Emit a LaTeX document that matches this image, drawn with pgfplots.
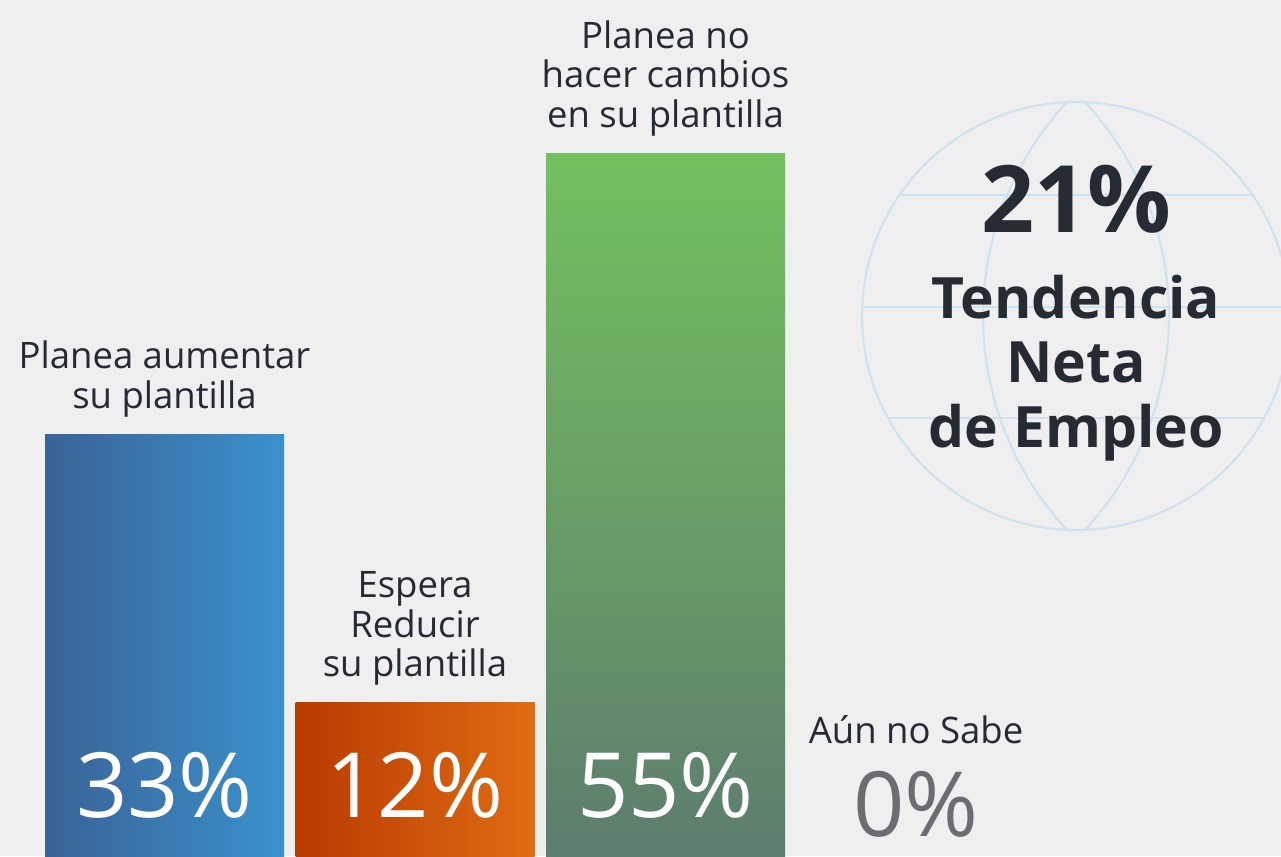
\documentclass[border=0pt]{standalone}
\usepackage{fontspec}
\setmainfont{Open Sans}
\usepackage{pgfplots}
\pgfplotsset{compat=1.18}
\definecolor{bg}{HTML}{EFEFEF}
\definecolor{txt}{HTML}{262A33}
\definecolor{zero}{HTML}{6C6C72}
\definecolor{globe}{HTML}{CDE4F0}
\definecolor{blueL}{HTML}{3A6297}
\definecolor{blueM}{HTML}{4E7CB2}
\definecolor{blueR}{HTML}{3A92CC}
\definecolor{orL}{HTML}{B83A00}
\definecolor{orR}{HTML}{E06C12}
\definecolor{grT}{HTML}{73C05E}
\definecolor{grB}{HTML}{5D7D6E}
\begin{document}
\begin{tikzpicture}
\fill[bg] (0pt,0pt) rectangle (1281pt,856pt);
\begin{scope}[x=1pt,y=1pt]
\clip (0,0) rectangle (1281,856);
\begin{scope}[draw=globe, line width=2pt]
\draw (1076,540) circle[radius=214];
\draw (899.5,661) -- (1252.5,661);
\draw (862.2,549) -- (1289.8,549);
\draw (887.9,438) -- (1264.1,438);
\draw (1067,754) arc[start angle=137.14, end angle=222.86, radius=314.6];
\draw (1084.9,754) arc[start angle=42.86, end angle=-42.86, radius=314.6];
\end{scope}
\end{scope}
\begin{axis}[at={(0pt,0pt)}, anchor=south west, scale only axis,
  width=1281pt, height=856pt,
  xmin=-0.6567, xmax=4.4571, ymin=0, ymax=67,
  axis lines=none, ybar, bar width=239pt, clip=false]
\addplot[ybar, bar shift=0pt, draw=none, left color=blueL, middle color=blueM, right color=blueR] coordinates {(0,33)};
\addplot[ybar, bar shift=0pt, draw=none, left color=orL, right color=orR] coordinates {(1,12)};
\addplot[ybar, bar shift=0pt, draw=none, top color=grT, bottom color=grB] coordinates {(2,55)};
\addplot[ybar, bar shift=0pt, draw=none, fill=none] coordinates {(3,0)};

\tikzset{lab/.style={anchor=south, align=center, inner sep=0pt, text=txt, font={\fontsize{36.5pt}{39.5pt}\selectfont}, yshift=17pt},
         pct/.style={anchor=base, inner sep=0pt, text=white, font={\fontsize{90pt}{90pt}\selectfont}, yshift=38pt}}
\node[lab] at (axis cs:0,33) {Planea aumentar\\su plantilla};
\node[lab] at (axis cs:1,12) {Espera\\Reducir\\su plantilla};
\node[lab] at (axis cs:2,55) {Planea no\\hacer cambios\\en su plantilla};
\node[anchor=base, inner sep=0pt, text=txt, font={\fontsize{36.5pt}{39.5pt}\selectfont}, yshift=112pt] at (axis cs:3,0) {Aún no Sabe};

\node[pct] at (axis cs:0,0) {33\%};
\node[pct] at (axis cs:1,0) {12\%};
\node[pct] at (axis cs:2,0) {55\%};
\node[pct, text=zero, yshift=-18pt] at (axis cs:3,0) {0\%};
\end{axis}
\begin{scope}[x=1pt,y=1pt]
\node[anchor=base, inner sep=0pt, text=txt, font={\fontsize{93pt}{93pt}\selectfont\bfseries}] at (1076,623) {21\%};
\node[anchor=base, inner sep=0pt, text=txt, font={\fontsize{57pt}{60pt}\selectfont\bfseries}] at (1076,537) {Tendencia};
\node[anchor=base, inner sep=0pt, text=txt, font={\fontsize{57pt}{60pt}\selectfont\bfseries}] at (1076,473) {Neta};
\node[anchor=base, inner sep=0pt, text=txt, font={\fontsize{57pt}{60pt}\selectfont\bfseries}] at (1076,408) {de Empleo};
\end{scope}
\end{tikzpicture}
\end{document}
